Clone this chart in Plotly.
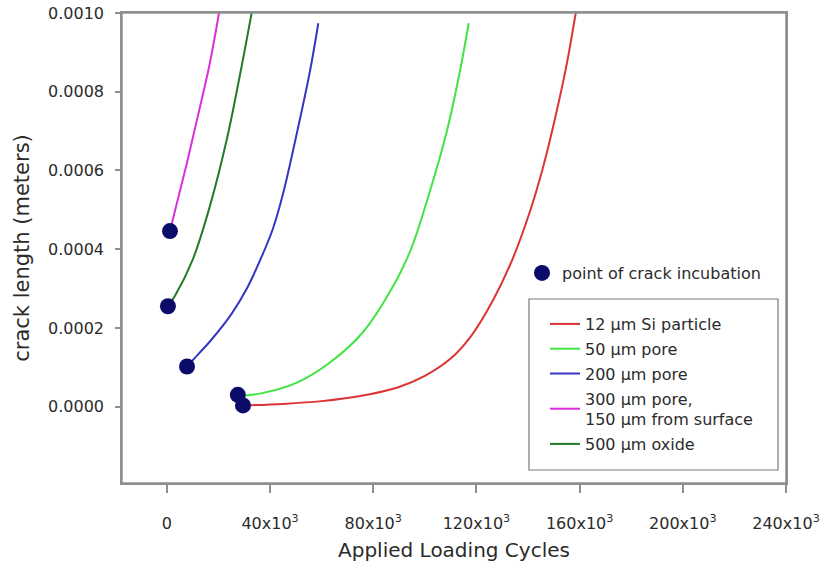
import plotly.graph_objects as go

# ---- data ----
red_x = [29500, 45000, 60000, 75000, 90000, 100000, 110000, 118000, 126000, 134000, 140700, 145700, 150400, 155000, 158500, 159500]
red_y = [0.000003, 0.000007, 0.000014, 0.000027, 0.00005, 0.000078, 0.000122, 0.00018, 0.000265, 0.000375, 0.000495, 0.000605, 0.00073, 0.00087, 0.001, 0.00104]

green_x = [27500, 36000, 50400, 63200, 76000, 86400, 94200, 101900, 108500, 113600, 117000]
green_y = [0.000027, 0.000033, 0.000061, 0.000112, 0.000189, 0.000291, 0.000393, 0.000546, 0.000699, 0.000852, 0.000974]

blue_x = [7800, 12000, 17000, 25000, 31000, 36000, 41000, 45000, 50400, 55400, 58700]
blue_y = [0.000102, 0.000132, 0.000168, 0.000235, 0.0003, 0.00037, 0.00045, 0.00054, 0.000695, 0.00085, 0.000974]

mag_x = [1200, 4000, 8000, 12000, 16500, 20200, 20800]
mag_y = [0.000446, 0.00052, 0.000625, 0.000738, 0.000868, 0.001, 0.001025]

dkg_x = [400, 3100, 10100, 16700, 23300, 28300, 33000, 33600]
dkg_y = [0.000255, 0.000281, 0.000375, 0.00051, 0.000681, 0.000842, 0.001005, 0.00103]

incub_x = [1200, 400, 7800, 27500, 29500]
incub_y = [0.000446, 0.000255, 0.000102, 0.00003, 0.000003]

x_tickvals = [0, 40000, 80000, 120000, 160000, 200000, 240000]
x_ticktext = ["0", "40x10<sup>3</sup>", "80x10<sup>3</sup>", "120x10<sup>3</sup>",
              "160x10<sup>3</sup>", "200x10<sup>3</sup>", "240x10<sup>3</sup>"]
y_tickvals = [0.0, 0.0002, 0.0004, 0.0006, 0.0008, 0.0010]

series = [
    ("12 µm Si particle", red_x, red_y, "#dc3434"),
    ("50 µm pore", green_x, green_y, "#42e442"),
    ("200 µm pore", blue_x, blue_y, "#3636c0"),
    ("300 µm pore,<br>150 µm from surface", mag_x, mag_y, "#dc2edc"),
    ("500 µm oxide", dkg_x, dkg_y, "#237a28"),
]

fig = go.Figure()
for i, (name, xs, ys, col) in enumerate(series):
    fig.add_trace(go.Scatter(
        x=xs, y=ys, mode="lines", name=name,
        line=dict(color=col, width=2, shape="spline", smoothing=1.0),
        legend="legend", legendgroup=f"g{i}",
    ))

fig.add_trace(go.Scatter(
    x=incub_x, y=incub_y, mode="markers", name="point of crack incubation",
    marker=dict(color="#0b0b6a", size=16), legend="legend2",
))

font_col = "#2b2b2b"
axis_col = "#8f8f8f"
FONT = "DejaVu Sans, Liberation Sans, Arial, sans-serif"

# plot area (page px): left 122, right 786, top 13, bottom 483
W, H = 825, 562
PL, PR, PT, PB = 122, 786, 13, 483
def px_x(p):
    return (p - PL) / (PR - PL)
def px_y(p):
    return 1 - (p - PT) / (PB - PT)

fig.update_layout(
    width=W, height=H,
    margin=dict(l=PL, r=W - PR, t=PT, b=H - PB),
    paper_bgcolor="white", plot_bgcolor="white",
    font=dict(family=FONT, color=font_col, size=16),
    showlegend=True,
    legend=dict(
        x=px_x(545), y=px_y(307), xanchor="left", yanchor="top",
        borderwidth=0, bgcolor="rgba(0,0,0,0)",
        font=dict(size=16, color=font_col), tracegroupgap=1,
    ),
    legend2=dict(
        x=px_x(522), y=px_y(256), xanchor="left", yanchor="top",
        borderwidth=0, bgcolor="rgba(0,0,0,0)",
        font=dict(size=16, color=font_col),
    ),
    shapes=[
        dict(type="rect", xref="paper", yref="paper",
             x0=px_x(529), x1=px_x(778), y0=px_y(470), y1=px_y(299),
             line=dict(color="#7a7a7a", width=1.2), fillcolor="rgba(0,0,0,0)", layer="below"),
        dict(type="rect", xref="paper", yref="paper", x0=0, x1=1, y0=0, y1=1,
             line=dict(color=axis_col, width=1.5), fillcolor="rgba(0,0,0,0)", layer="above"),
    ],
    xaxis=dict(
        range=[-17400, 240000], tickvals=x_tickvals, ticktext=x_ticktext,
        showgrid=False, zeroline=False, showline=True, linecolor=axis_col, linewidth=1.5,
        mirror=True, ticks="outside", ticklen=8, tickcolor=axis_col, tickwidth=1.5,
        ticklabelstandoff=17, automargin=False, ticklabeloverflow="allow",
        tickfont=dict(size=16, color=font_col),
        title=dict(text="Applied Loading Cycles", font=dict(size=20, color=font_col), standoff=16),
    ),
    yaxis=dict(
        range=[-0.000194, 0.001], tickvals=y_tickvals, tickformat=".4f",
        showgrid=False, zeroline=False, showline=True, linecolor=axis_col, linewidth=1.5,
        mirror=True, ticks="outside", ticklen=5, tickcolor=axis_col, tickwidth=1.5,
        ticklabelstandoff=8, automargin=False, ticklabeloverflow="allow",
        tickfont=dict(size=16, color=font_col),
        title=dict(text="crack length (meters)", font=dict(size=21, color=font_col), standoff=13),
    ),
)

fig.write_html("out.html", config={"displayModeBar": False},
               post_script="document.body.style.margin='0';")
